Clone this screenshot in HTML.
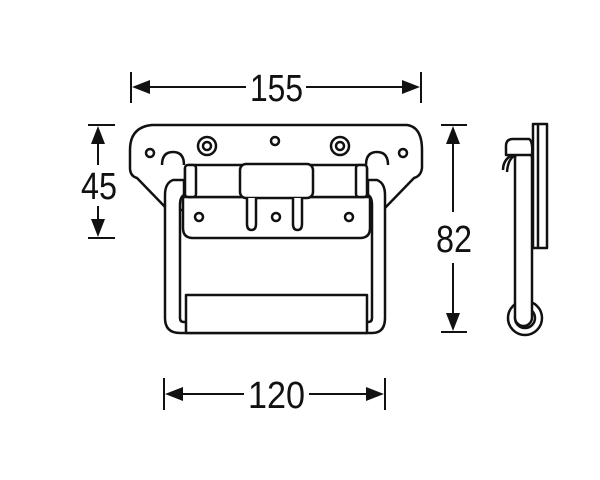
<!DOCTYPE html>
<html><head><style>body{margin:0;background:#fff}svg{display:block}</style></head><body>
<svg width="600" height="480" viewBox="0 0 600 480" xmlns="http://www.w3.org/2000/svg">
<rect width="600" height="480" fill="#fff"/>
<g stroke="#111" stroke-width="2" fill="none">
<line x1="131" y1="72" x2="131" y2="103"/><line x1="421" y1="72" x2="421" y2="103"/>
<line x1="138" y1="87" x2="246" y2="87"/><line x1="306" y1="87" x2="414" y2="87"/>
<line x1="164" y1="378" x2="164" y2="410"/><line x1="385" y1="378" x2="385" y2="410"/>
<line x1="171" y1="394" x2="244" y2="394"/><line x1="309" y1="394" x2="378" y2="394"/>
<line x1="88" y1="125" x2="115" y2="125"/><line x1="88" y1="238" x2="115" y2="238"/>
<line x1="98" y1="132" x2="98" y2="165"/><line x1="98" y1="206" x2="98" y2="231"/>
<line x1="441" y1="125" x2="467" y2="125"/><line x1="441" y1="332" x2="467" y2="332"/>
<line x1="453" y1="132" x2="453" y2="212"/><line x1="453" y1="263" x2="453" y2="325"/>
</g>
<g fill="#111">
<polygon points="132,87 150,80 150,94"/><polygon points="420,87 402,80 402,94"/>
<polygon points="165,394 183,387 183,401"/><polygon points="384,394 366,387 366,401"/>
<polygon points="98,126 91,144 105,144"/><polygon points="98,237 91,219 105,219"/>
<polygon points="453,126 446,144 460,144"/><polygon points="453,331 446,313 460,313"/>
</g>
<g font-family="Liberation Sans, sans-serif" font-size="38" fill="#111">
<text x="250" y="101" textLength="53" lengthAdjust="spacingAndGlyphs">155</text>
<text x="248" y="408" textLength="57" lengthAdjust="spacingAndGlyphs">120</text>
<text x="81" y="199" textLength="36" lengthAdjust="spacingAndGlyphs">45</text>
<text x="436" y="252" textLength="36" lengthAdjust="spacingAndGlyphs">82</text>
</g>
<g stroke="#111" stroke-width="2.5" fill="#fff" stroke-linejoin="round">
<path d="M152,125 L407,125 Q422,127 422,150 L422,168 Q421,176 414,178 L383,210 L168,210 L137,178 Q130,176 130,168 L130,150 Q130,127 152,125 Z"/>
<path d="M173,180 Q165,183 165,195 L165,318 Q165,333 180,333 L372,333 Q385,333 385,318 L385,195 Q385,183 377,180 L368,180 L368,195 Q372,197 372,205 L372,318 Q372,322 368,322 L184,322 Q180,322 180,318 L180,205 Q180,197 184,195 L184,180 Z"/>
<path d="M183,197 L370,197 L370,228 Q370,238 360,238 L193,238 Q183,238 183,228 Z"/>
<path d="M162,165 Q162,152 173,152 Q184,152 184,165"/>
<path d="M366,165 Q366,152 377,152 Q388,152 388,165"/>
<rect x="185" y="165" width="182" height="32" rx="4"/>
<rect x="185" y="165" width="11" height="32" rx="3"/>
<rect x="356" y="165" width="11" height="32" rx="3"/>
<rect x="240" y="164" width="73" height="34" rx="6"/>
<path d="M247,198 L247,224 Q247,230 251.5,230 Q256,230 256,224 L256,198"/>
<path d="M293,198 L293,224 Q293,230 297.5,230 Q302,230 302,224 L302,198"/>
<rect x="186" y="295" width="181" height="38"/>
<circle cx="207" cy="146" r="9"/><circle cx="207" cy="146" r="4"/>
<circle cx="340" cy="146" r="9"/><circle cx="340" cy="146" r="4"/>
<circle cx="150" cy="153" r="4"/><circle cx="403" cy="153" r="4"/><circle cx="275" cy="141" r="4"/>
<circle cx="199" cy="217" r="4"/><circle cx="276" cy="217" r="4"/><circle cx="349" cy="217" r="4"/>
<!-- side view -->
<rect x="533" y="124" width="14" height="124"/>
<line x1="538" y1="124" x2="538" y2="248"/>
<circle cx="525" cy="318" r="17"/><circle cx="525" cy="318" r="10"/>
<path d="M516,155 Q508,158 507,172 M512,155 Q503,160 503,170" fill="none"/>
<rect x="515" y="150" width="17" height="176" rx="8.5"/>
<path d="M506,155 L506,146 Q506,139 513,139 L529,139 Q533,141 532,155 Z"/>
</g>
</svg>
</body></html>
